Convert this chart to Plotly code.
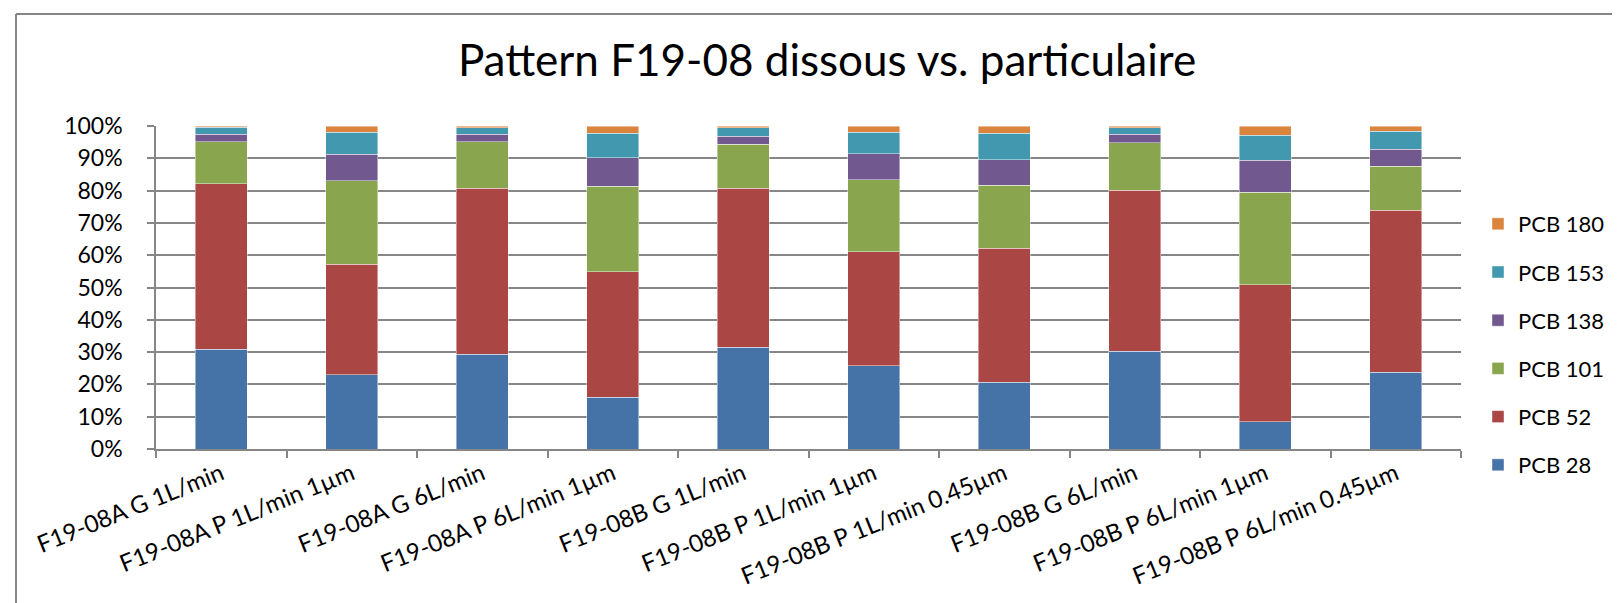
import plotly.graph_objects as go

categories = [
    "F19-08A G 1L/min",
    "F19-08A P 1L/min 1µm",
    "F19-08A G 6L/min",
    "F19-08A P 6L/min 1µm",
    "F19-08B G 1L/min",
    "F19-08B P 1L/min 1µm",
    "F19-08B P 1L/min 0.45µm",
    "F19-08B G 6L/min",
    "F19-08B P 6L/min 1µm",
    "F19-08B P 6L/min 0.45µm",
]

pcb28 = [30.9, 23.0, 29.3, 16.0, 31.5, 25.7, 20.7, 30.3, 8.5, 23.8]
pcb52 = [51.2, 34.2, 51.4, 38.9, 49.2, 35.4, 41.4, 49.8, 42.3, 50.1]
pcb101 = [13.0, 25.8, 14.4, 26.5, 13.6, 22.3, 19.5, 14.7, 28.7, 13.7]
pcb138 = [2.3, 8.2, 2.3, 8.8, 2.6, 8.0, 7.9, 2.6, 9.9, 5.2]
pcb153 = [2.2, 6.8, 2.0, 7.5, 2.5, 6.6, 8.2, 2.0, 7.8, 5.5]
pcb180 = [0.4, 2.0, 0.6, 2.3, 0.6, 2.0, 2.3, 0.6, 2.8, 1.7]

series_names = ["PCB 28", "PCB 52", "PCB 101", "PCB 138", "PCB 153", "PCB 180"]
series_values = [pcb28, pcb52, pcb101, pcb138, pcb153, pcb180]
series_colors = ["#4572A7", "#AA4643", "#89A54E", "#71588F", "#4198AF", "#DB843D"]

title_text = "Pattern F19-08 dissous vs. particulaire"
FONT = "Lato, 'Open Sans', sans-serif"

W, H = 1620, 603
L, R, T, B = 148, 1453, 118, 441

fig = go.Figure()
n = len(series_names)
for i, (name, vals, col) in enumerate(zip(series_names, series_values, series_colors)):
    fig.add_trace(go.Bar(
        x=categories,
        y=[v / 100.0 for v in vals],
        name=name,
        legendgroup=name,
        legendrank=n - i,
        marker=dict(color=col, line=dict(color="rgba(255,255,255,0.55)", width=0.8)),
        hoverinfo="x+y+name",
    ))

def px_x(p):
    return (p - L) / (R - L)

def px_y(p):
    return (B - p) / (B - T)

fig.update_layout(
    width=W, height=H,
    barmode="stack",
    bargap=0.6,
    plot_bgcolor="white",
    paper_bgcolor="white",
    margin=dict(l=L, r=W - R, t=T, b=H - B, autoexpand=False),
    font=dict(family=FONT, color="#000000"),
    title=dict(
        text=title_text,
        x=819 / W, xanchor="center",
        y=1 - 53 / H, yanchor="middle",
        yref="container", xref="container",
        font=dict(size=44, family=FONT, color="#000000"),
    ),
    legend=dict(
        x=px_x(1470), xanchor="left",
        y=px_y(195), yanchor="top",
        traceorder="grouped",
        tracegroupgap=16.6,
        font=dict(size=22, family=FONT, color="#000000"),
        itemwidth=30,
        bgcolor="rgba(0,0,0,0)",
    ),
    xaxis=dict(
        type="category",
        showline=True, linecolor="#868686", linewidth=1.5,
        ticks="outside", ticklen=7, tickcolor="#868686", tickwidth=1.5,
        tickson="boundaries",
        tickangle=-22,
        tickfont=dict(size=24, family=FONT, color="#000000"),
        showgrid=False,
        fixedrange=True,
    ),
    yaxis=dict(
        range=[0, 1],
        dtick=0.1,
        tickformat=".0%",
        showline=True, linecolor="#868686", linewidth=1.5,
        ticks="outside", ticklen=7, tickcolor="#868686", tickwidth=1.5,
        ticklabelstandoff=20,
        showgrid=True, gridcolor="#868686", gridwidth=1.5,
        tickfont=dict(size=23, family=FONT, color="#000000"),
        zeroline=False,
        fixedrange=True,
    ),
    showlegend=True,
)

# chart-area border (top and left edges visible)
fig.add_shape(type="line", xref="paper", yref="paper",
              x0=px_x(8), x1=px_x(W + 5), y0=px_y(6), y1=px_y(6),
              line=dict(color="#868686", width=2))
fig.add_shape(type="line", xref="paper", yref="paper",
              x0=px_x(8), x1=px_x(8), y0=px_y(6), y1=px_y(H + 5),
              line=dict(color="#868686", width=2))

fig.write_html("out.html")
